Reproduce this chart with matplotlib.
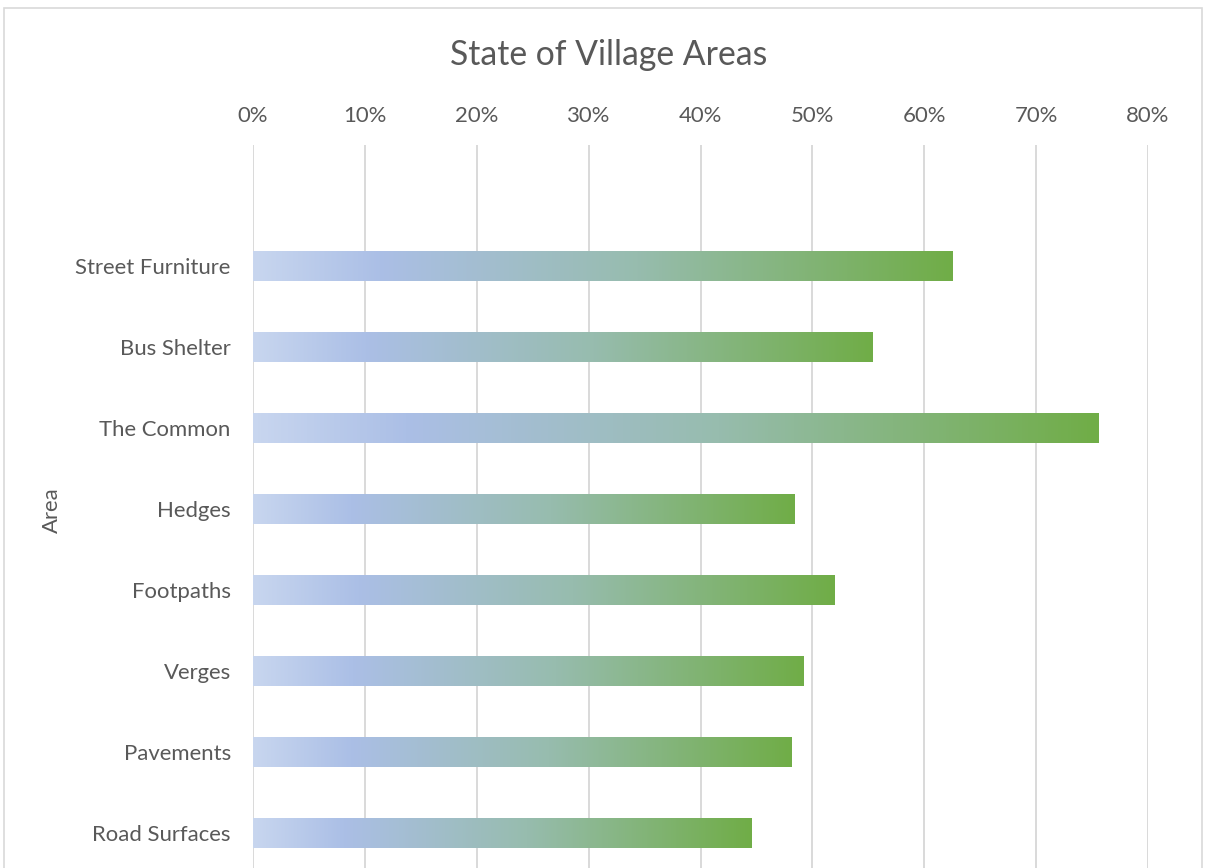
import numpy as np
import matplotlib
matplotlib.use("Agg")
import matplotlib.pyplot as plt
from matplotlib.colors import LinearSegmentedColormap
from matplotlib.patches import Rectangle
from matplotlib.ticker import PercentFormatter

categories = ["Street Furniture", "Bus Shelter", "The Common", "Hedges",
              "Footpaths", "Verges", "Pavements", "Road Surfaces"]
values = [0.625, 0.554, 0.756, 0.484, 0.520, 0.492, 0.481, 0.446]
xticks = [0.0, 0.1, 0.2, 0.3, 0.4, 0.5, 0.6, 0.7, 0.8]

plt.rcParams['font.family'] = ['Lato', 'DejaVu Sans']
text_color = "#595959"
grid_color = "#d9d9d9"

W, H = 1206, 868
fig = plt.figure(figsize=(W / 100, H / 100), dpi=100)

left, right = 253 / W, 1148 / W
top = 1 - 145 / H
ax = fig.add_axes([left, 0, right - left, top])

cmap = LinearSegmentedColormap.from_list(
    "grad", [(0.0, "#c8d6ef"), (0.18, "#abbfe6"), (0.55, "#97bcae"), (1.0, "#70ad47")])
grad = np.linspace(0, 1, 256).reshape(1, -1)

bar_h = 0.37
ypos = np.arange(len(categories))
bars = ax.barh(ypos, values, height=bar_h, color="none", edgecolor="none", zorder=3)
for b, v in zip(bars, values):
    y0 = b.get_y()
    ax.imshow(grad, cmap=cmap, aspect="auto", interpolation="bilinear",
              extent=[0, v, y0 + bar_h, y0], zorder=3)

ax.set_xlim(0, 0.8)
ax.set_ylim((868 - 266) / 81, (145 - 266) / 81)
ax.set_xticks(xticks)
ax.xaxis.set_major_formatter(PercentFormatter(1.0, decimals=0))
ax.xaxis.tick_top()
ax.set_yticks(ypos)
ax.set_yticklabels(categories)
ax.tick_params(axis="x", length=0, pad=14, labelsize=15.9, labelcolor=text_color)
ax.tick_params(axis="y", length=0, pad=16, labelsize=15.9, labelcolor=text_color)
ax.grid(axis="x", color=grid_color, linewidth=1.4, zorder=0)
ax.set_axisbelow(True)
for s in ax.spines.values():
    s.set_visible(False)

fig.text(609 / W, 1 - 55 / H, "State of Village Areas", ha="center", va="center",
         fontsize=24.3, color=text_color)
fig.text(52 / W, 1 - 510 / H, "Area", ha="center", va="center", rotation=90,
         fontsize=15.9, color=text_color)

fig.add_artist(Rectangle((4 / W, -0.1), (1202 - 4) / W, 1.1 - 8 / H,
                         transform=fig.transFigure, fill=False,
                         edgecolor=grid_color, linewidth=1.2))

fig.savefig("out.png", dpi=100)
